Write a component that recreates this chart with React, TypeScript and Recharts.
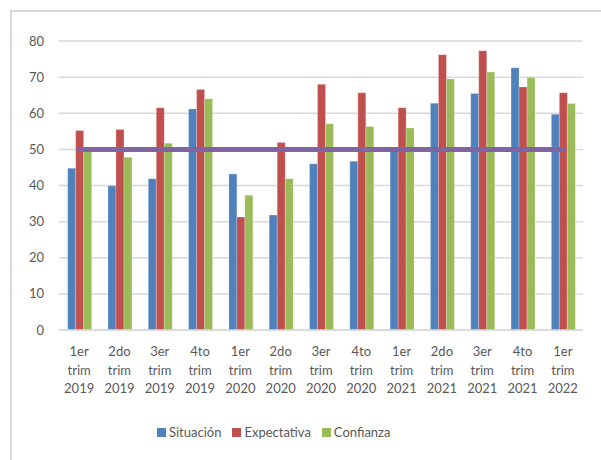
import { ComposedChart, Bar, Line, XAxis, YAxis, CartesianGrid } from "recharts";

// periods on the x axis
const periodos = [
  "1er trim 2019",
  "2do trim 2019",
  "3er trim 2019",
  "4to trim 2019",
  "1er trim 2020",
  "2do trim 2020",
  "3er trim 2020",
  "4to trim 2020",
  "1er trim 2021",
  "2do trim 2021",
  "3er trim 2021",
  "4to trim 2021",
  "1er trim 2022",
];

const situacion = [44.8, 39.9, 41.9, 61.2, 43.2, 31.8, 46.0, 46.7, 50.0, 62.8, 65.5, 72.6, 59.7];
const expectativa = [55.2, 55.5, 61.5, 66.6, 31.3, 51.9, 68.0, 65.7, 61.5, 76.2, 77.3, 67.3, 65.7];
const confianza = [50.2, 47.8, 51.7, 64.0, 37.3, 41.9, 57.1, 56.3, 55.9, 69.5, 71.4, 69.9, 62.7];
const umbral = [50, 50, 50, 50, 50, 50, 50, 50, 50, 50, 50, 50, 50];

const yTicks = [0, 10, 20, 30, 40, 50, 60, 70, 80];

const data = periodos.map((p, i) => ({
  periodo: p,
  situacion: situacion[i],
  expectativa: expectativa[i],
  confianza: confianza[i],
  umbral: umbral[i],
}));

const FONT = "Lato, 'Open Sans', sans-serif";
const TEXT = "#595959";

const series = [
  { key: "situacion", name: "Situación", color: "#4F81BD" },
  { key: "expectativa", name: "Expectativa", color: "#C0504D" },
  { key: "confianza", name: "Confianza", color: "#9BBB59" },
];

function PeriodoTick(props: any) {
  const { x, y, payload } = props;
  const lines = String(payload.value).split(" ");
  return (
    <text x={x} y={y} textAnchor="middle" fill={TEXT} fontSize={13} fontFamily={FONT}>
      {lines.map((l, i) => (
        <tspan key={i} x={x} dy={i === 0 ? 18 : 18.5}>
          {l}
        </tspan>
      ))}
    </text>
  );
}

export default function App() {
  return (
    <div style={{ position: "absolute", left: 0, top: 0, width: 601, height: 460, overflow: "hidden", background: "#fff" }}>
      {/* chart frame, cut off on the right and bottom like the source */}
      <div
        style={{
          position: "absolute",
          left: 10,
          top: 10,
          width: 620,
          height: 480,
          borderLeft: "2px solid #DADADA",
          borderTop: "2px solid #DADADA",
        }}
      />
      <ComposedChart
        width={601}
        height={460}
        data={data}
        margin={{ top: 41, right: 18, bottom: 60, left: 0 }}
        barCategoryGap="21.5%"
        barGap={0}
        style={{ position: "absolute", left: 0, top: 0 }}
      >
        <CartesianGrid vertical={false} stroke="#D9D9D9" strokeWidth={1.5} />
        <XAxis
          dataKey="periodo"
          interval={0}
          height={70}
          tick={<PeriodoTick />}
          tickLine={false}
          axisLine={{ stroke: "#D9D9D9", strokeWidth: 1.5 }}
        />
        <YAxis
          domain={[0, 80]}
          ticks={yTicks}
          width={59}
          tickLine={false}
          axisLine={false}
          tickMargin={9}
          tick={{ fill: TEXT, fontSize: 13, fontFamily: FONT }}
        />
        {series.map((s) => (
          <Bar
            key={s.key}
            dataKey={s.key}
            name={s.name}
            fill={s.color}
            stroke="#ffffff"
            strokeOpacity={0.4}
            strokeWidth={0.6}
            isAnimationActive={false}
          />
        ))}
        <Line
          dataKey="umbral"
          stroke="#8064A2"
          strokeWidth={5}
          strokeLinecap="round"
          dot={false}
          activeDot={false}
          isAnimationActive={false}
        />
      </ComposedChart>
      <div
        style={{
          position: "absolute",
          left: 157,
          top: 424,
          display: "flex",
          alignItems: "center",
          fontFamily: FONT,
          fontSize: 13,
          color: TEXT,
        }}
      >
        {series.map((s) => (
          <div key={s.key} style={{ display: "flex", alignItems: "center", marginRight: 11 }}>
            <span style={{ display: "inline-block", width: 9, height: 9, background: s.color, marginRight: 3 }} />
            <span>{s.name}</span>
          </div>
        ))}
      </div>
    </div>
  );
}
